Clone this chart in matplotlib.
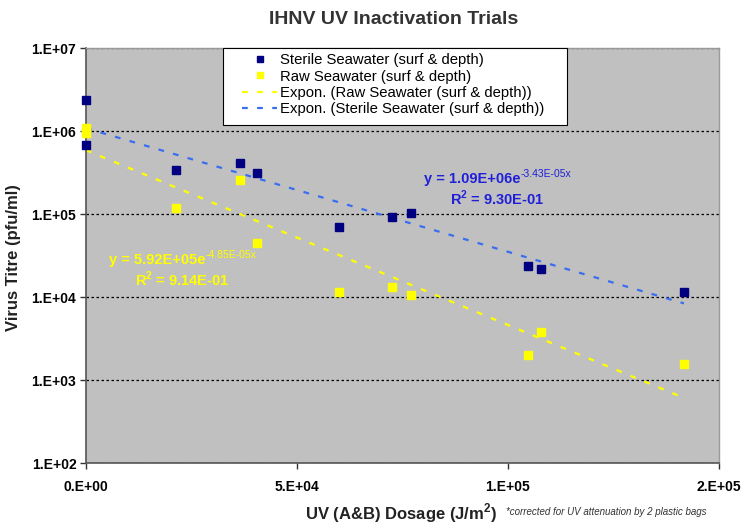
import numpy as np
import matplotlib
matplotlib.use("Agg")
import matplotlib.pyplot as plt
from matplotlib.patches import Rectangle
from matplotlib.ticker import FixedLocator, FixedFormatter, NullLocator

plt.rcParams['font.family'] = ['Liberation Sans', 'DejaVu Sans']
plt.rcParams['mathtext.fontset'] = 'custom'
plt.rcParams['mathtext.rm'] = 'Liberation Sans'

# sterile seawater (surf & depth)
sterile_x = [0, 0, 21300, 36500, 40500, 60000, 72500, 77000, 104800, 107800, 141700]
sterile_y = [2.4e6, 6.8e5, 3.42e5, 4.15e5, 3.14e5, 7.0e4, 9.3e4, 1.04e5, 2.38e4, 2.19e4, 1.16e4]

# raw seawater (surf & depth)
raw_x = [0, 0, 21300, 36500, 40500, 60000, 72500, 77000, 104800, 107800, 141700]
raw_y = [1.1e6, 9.5e5, 1.19e5, 2.59e5, 4.5e4, 1.16e4, 1.33e4, 1.06e4, 2.0e3, 3.8e3, 1.57e3]

# exponential trendlines as printed on the chart: y = a * exp(b x)
sterile_fit = (1.09e6, -3.43e-5)
raw_fit = (5.92e5, -4.85e-5)
sterile_eq = ("y = 1.09E+06e", "-3.43E-05x", "9.30E-01")
raw_eq = ("y = 5.92E+05e", "-4.85E-05x", "9.14E-01")

xticks = [0, 50000, 100000, 150000]
xtick_labels = ["0.E+00", "5.E+04", "1.E+05", "2.E+05"]
yticks = [1e2, 1e3, 1e4, 1e5, 1e6, 1e7]
ytick_labels = ["1.E+02", "1.E+03", "1.E+04", "1.E+05", "1.E+06", "1.E+07"]

navy = "#000080"
yellow = "#ffff00"
blue = "#3a6ef0"
eq_blue = "#2020d8"

fig = plt.figure(figsize=(7.45, 5.26), dpi=100)
ax = fig.add_axes([0.1154, 0.1192, 0.8497, 0.7890])
ax.set_facecolor("#c0c0c0")

xx_s = np.linspace(0, max(sterile_x), 200)
xx_r = np.linspace(0, max(raw_x), 200)
ax.plot(xx_r, raw_fit[0] * np.exp(raw_fit[1] * xx_r), color=yellow, lw=1.6,
        dashes=(2.6, 4.2), label="Expon. (Raw Seawater (surf & depth))", zorder=2)
ax.plot(xx_s, sterile_fit[0] * np.exp(sterile_fit[1] * xx_s), color=blue, lw=1.6,
        dashes=(2.6, 4.2), label="Expon. (Sterile Seawater (surf & depth))", zorder=2)
ax.plot(sterile_x, sterile_y, 's', color=navy, ms=5.5, mec=navy,
        label="Sterile Seawater (surf & depth)", zorder=3, clip_on=False)
ax.plot(raw_x, raw_y, 's', color=yellow, ms=5.5, mec=yellow,
        label="Raw Seawater (surf & depth)", zorder=3, clip_on=False)

ax.set_yscale("log")
ax.set_xlim(0, 150000)
ax.set_ylim(1e2, 1e7)
ax.xaxis.set_major_locator(FixedLocator(xticks))
ax.xaxis.set_major_formatter(FixedFormatter(xtick_labels))
ax.yaxis.set_major_locator(FixedLocator(yticks))
ax.yaxis.set_major_formatter(FixedFormatter(ytick_labels))
ax.yaxis.set_minor_locator(NullLocator())
ax.tick_params(direction="out", length=4, width=1, color="#333333",
               labelsize=10, pad=3)
for lab in ax.get_xticklabels() + ax.get_yticklabels():
    lab.set_fontweight("bold")
ax.tick_params(axis="x", pad=8)

ax.grid(axis="y", color="black", linestyle=(0, (2, 2)), lw=0.9)
for side in ["left", "bottom"]:
    ax.spines[side].set_color("#555555")
    ax.spines[side].set_linewidth(1.2)
for side in ["top", "right"]:
    ax.spines[side].set_color("#9a9a9a")
    ax.spines[side].set_linewidth(1)

# legend box drawn separately so the entries can sit indented like Excel's
ax.add_patch(Rectangle((0.2164, 0.815), 0.5436, 0.185, transform=ax.transAxes,
                       facecolor="white", edgecolor="black", lw=0.8, zorder=4,
                       clip_on=False))
h, l = ax.get_legend_handles_labels()
order = [2, 3, 0, 1]
leg = ax.legend([h[i] for i in order], [l[i] for i in order],
                loc="upper left", bbox_to_anchor=(0.246, 0.988),
                borderaxespad=0, fontsize=10.7, frameon=False,
                labelspacing=0.16, handlelength=2.4, handletextpad=0.2,
                borderpad=0, markerscale=0.85)
leg.set_zorder(5)

def equation(x, y, eq, color):
    base, sup, r2 = eq
    t = ax.text(x, y, base, transform=ax.transAxes, color=color, fontsize=10.5,
                fontweight="bold", va="center")
    ax.annotate(sup, xy=(1.0, 0.85), xycoords=t, color=color, fontsize=7.5,
                va="center", ha="left")
    ax.text(x + 0.041, y - 0.046, "R$^{\\mathregular{2}}$ = " + r2,
            transform=ax.transAxes, color=color, fontsize=10.5,
            fontweight="bold", va="center")

equation(0.534, 0.685, sterile_eq, eq_blue)
equation(0.036, 0.490, raw_eq, yellow)

fig.text(0.529, 0.962, "IHNV UV Inactivation Trials", ha="center", va="center",
         fontsize=14, fontweight="bold", color="#333333")
fig.text(0.018, 0.51, "Virus Titre (pfu/ml)", rotation=90, ha="center", va="center",
         fontsize=12, fontweight="bold", color="#222222")
fig.text(0.538, 0.025, "UV (A&B) Dosage (J/m$^{\\mathregular{2}}$)", ha="center", va="center",
         fontsize=12, fontweight="bold", color="#222222")
fig.text(0.679, 0.026, "*corrected for UV attenuation by 2 plastic bags", ha="left", va="center",
         fontsize=7, style="italic", color="#333333")

plt.savefig("out.png", dpi=100)
